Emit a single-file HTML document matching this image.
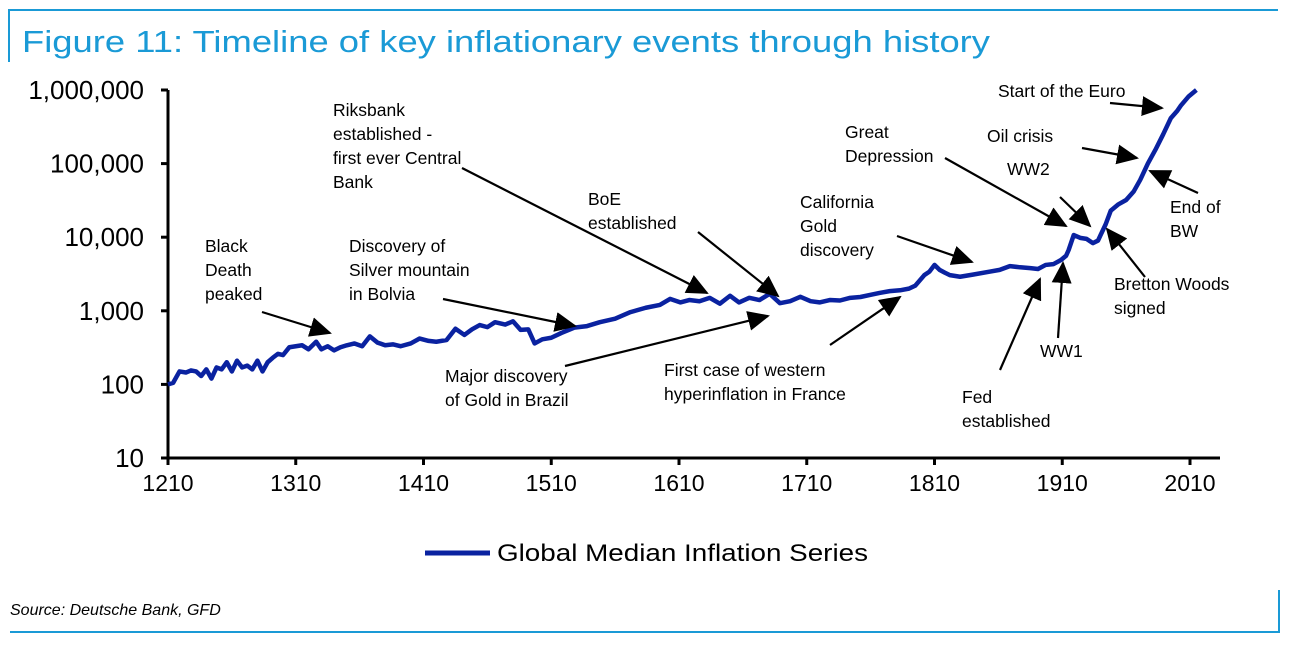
<!DOCTYPE html>
<html><head><meta charset="utf-8"><style>
body{margin:0;background:#fff;width:1291px;height:645px;overflow:hidden;font-family:"Liberation Sans",sans-serif}
svg{position:absolute;left:0;top:0}
</style></head><body>
<svg id="chart" width="1291" height="645">
<defs>
<marker id="ah2" markerWidth="22" markerHeight="20" refX="20" refY="10" orient="auto" markerUnits="userSpaceOnUse"><path d="M0,0 L22,10 L0,20 z" fill="#000"/></marker></defs>
<g stroke="#1a9ad6" stroke-width="2" fill="none">
<polyline points="9,62 9,10 1278,10"/><polyline points="10,632 1279,632 1279,590"/></g>
<text x="22" y="52" font-size="31" fill="#1a9ad6" textLength="968" lengthAdjust="spacingAndGlyphs">Figure 11: Timeline of key inflationary events through history</text>
<g id="axes"></g><g id="series"></g><g id="ann"></g>
<line x1="425" y1="553" x2="490" y2="553" stroke="#0a22a0" stroke-width="5"/>
<text x="497" y="561" font-size="24" textLength="371" lengthAdjust="spacingAndGlyphs">Global Median Inflation Series</text>
<text x="10" y="615" font-size="16" font-style="italic">Source: Deutsche Bank, GFD</text>
</svg>
<script>
const years=[1210,1214,1219,1224,1228,1232,1236,1240,1244,1248,1252,1256,1260,1264,1268,1272,1276,1280,1284,1288,1292,1296,1300,1305,1310,1315,1320,1326,1330,1335,1340,1345,1350,1356,1362,1368,1374,1380,1386,1392,1400,1407,1414,1420,1428,1435,1442,1448,1454,1460,1466,1474,1480,1486,1492,1497,1503,1510,1518,1528,1538,1548,1560,1572,1584,1595,1603,1611,1618,1626,1634,1642,1650,1657,1665,1673,1681,1689,1697,1705,1713,1720,1728,1736,1744,1752,1760,1767,1775,1783,1790,1795,1802,1806,1810,1814,1818,1822,1830,1840,1853,1861,1869,1877,1885,1891,1897,1903,1909,1913,1915,1919,1924,1929,1934,1938,1940,1944,1948,1954,1960,1966,1971,1977,1983,1989,1995,2000,2003,2009,2015];
const values=[100,105,150,145,155,150,130,160,120,170,160,200,150,210,170,180,160,210,150,200,230,260,250,320,330,340,300,380,300,330,290,320,340,360,330,450,370,340,350,330,360,420,390,380,400,570,470,560,640,600,700,650,720,550,560,360,410,430,500,590,620,700,780,960,1100,1200,1450,1300,1400,1350,1500,1250,1600,1300,1500,1400,1700,1270,1350,1550,1350,1300,1400,1380,1500,1540,1650,1750,1850,1900,2000,2200,3050,3400,4200,3600,3300,3050,2900,3100,3400,3600,4050,3900,3800,3700,4200,4300,4900,5600,6700,10700,9800,9500,8300,9000,10700,15000,23000,28000,32000,42000,60000,100000,155000,250000,415000,520000,620000,820000,1000000];
const yTicks=[10,100,1000,10000,100000,1000000];
const yLabels=["10","100","1,000","10,000","100,000","1,000,000"];
const xTicks=[1210,1310,1410,1510,1610,1710,1810,1910,2010];
const NS="http://www.w3.org/2000/svg";
const X0=168,X1=1190,Y0=458,YTOP=90;
function xs(y){return X0+(y-1210)*(X1-X0)/800;}
function ys(v){return Y0-(Math.log10(v)-1)*(Y0-YTOP)/5;}
function mk(t,a,p){const e=document.createElementNS(NS,t);for(const k in a)e.setAttribute(k,a[k]);p.appendChild(e);return e;}
const ax=document.getElementById('axes');
const yl=mk('line',{x1:X0,y1:YTOP,x2:X0,y2:Y0,stroke:'#000','stroke-width':3},ax);


const xl=mk('line',{x1:X0-1,y1:Y0,x2:1220,y2:Y0,stroke:'#000','stroke-width':3},ax);


yTicks.forEach((v,i)=>{
 mk('line',{x1:X0-7,y1:ys(v),x2:X0,y2:ys(v),stroke:'#000','stroke-width':3},ax);
 const t=mk('text',{x:144,y:ys(v)+9,'font-size':26,'text-anchor':'end'},ax);t.textContent=yLabels[i];
 
 
});
xTicks.forEach(v=>{
 mk('line',{x1:xs(v),y1:Y0,x2:xs(v),y2:Y0+7,stroke:'#000','stroke-width':3},ax);
 const t=mk('text',{x:xs(v),y:Y0+33,'font-size':23,'text-anchor':'middle'},ax);t.textContent=String(v);
 
 
});
const pl=mk('polyline',{points:years.map((y,i)=>xs(y)+','+ys(values[i])).join(' '),fill:'none',stroke:'#0a22a0','stroke-width':4.5,'stroke-linejoin':'round'},document.getElementById('series'));


const notes=[
 [["Black","Death","peaked"],205,252,[262,312,330,333]],
 [["Discovery of","Silver mountain","in Bolvia"],349,252,[443,299,575,326]],
 [["Riksbank","established -","first ever Central","Bank"],333,116,[462,168,707,293]],
 [["Major discovery","of Gold in Brazil"],445,382,[565,366,768,316]],
 [["BoE","established"],588,205,[698,232,778,296]],
 [["First case of western","hyperinflation in France"],664,376,[830,345,900,297]],
 [["California","Gold","discovery"],800,208,[897,236,972,262]],
 [["Great","Depression"],845,138,[945,158,1066,226]],
 [["WW2"],1007,175,[1060,197,1090,226]],
 [["Oil crisis"],987,142,[1082,148,1137,158]],
 [["Start of the Euro"],998,97,[1110,103,1162,108]],
 [["End of","BW"],1170,213,[1198,193,1150,171]],
 [["Bretton Woods","signed"],1114,290,[1145,277,1107,229]],
 [["Fed","established"],962,403,[1000,370,1040,279]],
 [["WW1"],1040,357,[1058,338,1063,263]]
];
const an=document.getElementById('ann');
notes.forEach(n=>{
 const g=mk('g',{},an);
 
 
 n[0].forEach((s,i)=>{const t=mk('text',{x:n[1],y:n[2]+i*24,'font-size':17.5},g);t.textContent=s;});
 const a=n[3];
 mk('line',{x1:a[0],y1:a[1],x2:a[2],y2:a[3],stroke:'#000','stroke-width':2.2,'marker-end':'url(#ah2)'},g);
});
</script>
</body></html>
